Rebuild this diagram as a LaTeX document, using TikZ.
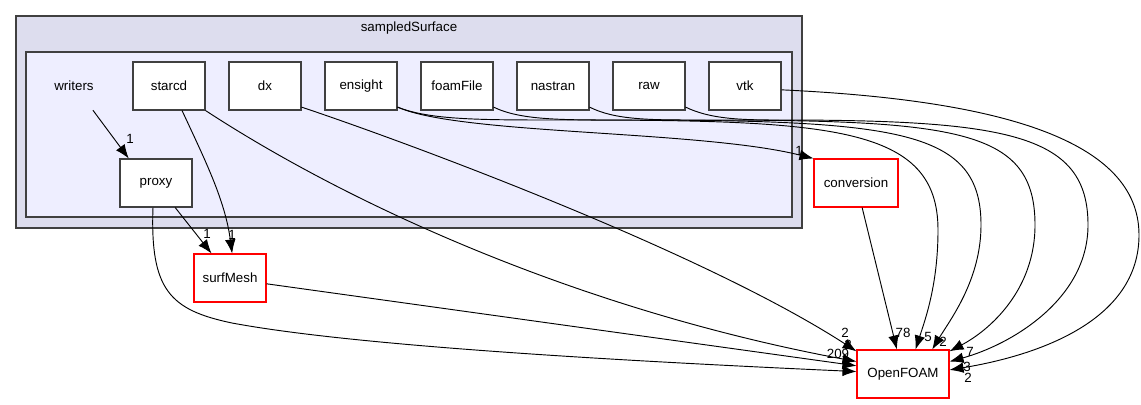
\documentclass[tikz,border=0pt]{standalone}
\usepackage{fontspec}
\setmainfont{Liberation Sans}
\usetikzlibrary{arrows.meta}
\definecolor{outerfill}{HTML}{DDDDEE}
\definecolor{innerfill}{HTML}{EEEEFF}
\definecolor{frame}{HTML}{404040}

\begin{document}
\begin{tikzpicture}[
x=0.75pt,
y=-0.75pt,
every node/.style={
  font=\fontsize{10pt}{12pt}\selectfont
  },
box/.style={
  draw=frame,
  fill=white,
  line width=0.8pt,
  minimum width=54pt,
  minimum height=36pt,
  inner sep=0pt
  },
plain/.style={
  draw=none,
  fill=none,
  minimum width=54pt,
  minimum height=36pt,
  inner sep=0pt
  },
ext/.style={
  box,
  draw=red
  },
lbl/.style={
  inner sep=0pt
  },
dep/.style={
  ->,
  line width=0.7pt
  },
>={Latex[length=10.5pt,width=8pt]}
]
\useasboundingbox (0,0) rectangle (1141,404);
\filldraw[fill=outerfill,draw=frame,line width=1pt] (16,16) rectangle (802,228);
\filldraw[fill=innerfill,draw=frame,line width=1pt] (26,52) rectangle (792,217);
\node (title) at (409,28) {sampledSurface};

\node[plain] (writers) at (74,86) {writers};
\node[box] (starcd) at (169,86) {starcd};
\node[box] (dx) at (265,86) {dx};
\node[box] (ensight) at (361,86) {ensight};
\node[box] (foamFile) at (457,86) {foamFile};
\node[box] (nastran) at (553,86) {nastran};
\node[box] (raw) at (649,86) {raw};
\node[box] (vtk) at (745,86) {vtk};
\node[box] (proxy) at (156,183) {proxy};
\node[ext,minimum width=63pt] (conversion) at (856,183) {conversion};
\node[ext] (surfMesh) at (230,278) {surfMesh};
\node[ext,minimum width=69pt] (OpenFOAM) at (903,374) {OpenFOAM};

\draw[dep] (writers.-52) -- (proxy.138);
\draw[dep] (proxy.-52) -- (surfMesh.127);
\draw[dep] (starcd.-62) .. controls (205,160) and (225,200) .. (surfMesh.85);
\draw[dep] (proxy.-97) .. controls (150,290) and (170,310) .. (232,323)
  .. controls (350,345) and (600,360) .. (OpenFOAM.177);
\draw[dep] (surfMesh.-9) -- (OpenFOAM.170);
\draw[dep] (starcd.south east) .. controls (350,205) and (580,310) .. (OpenFOAM.165);
\draw[dep] (dx.-30) .. controls (400,140) and (700,250) .. (OpenFOAM.154);
\draw[dep] (ensight.-30) .. controls (460,135) and (700,130) .. (conversion.north west);
\draw[dep] (ensight.-30) .. controls (430,120) and (480,120) .. (560,120)
  .. controls (830,120) and (938,125) .. (938,230)
  .. controls (938,285) and (925,320) .. (OpenFOAM.63);
\draw[dep] (foamFile.-30) .. controls (520,120) and (560,120) .. (620,120)
  .. controls (900,120) and (981,130) .. (981,225)
  .. controls (981,280) and (950,320) .. (OpenFOAM.40);
\draw[dep] (nastran.-30) .. controls (615,120) and (650,120) .. (700,120)
  .. controls (960,120) and (1035,130) .. (1035,225)
  .. controls (1035,290) and (990,330) .. (OpenFOAM.26);
\draw[dep] (raw.-30) .. controls (710,119) and (740,120) .. (780,120)
  .. controls (1010,120) and (1088,135) .. (1088,225)
  .. controls (1088,300) and (1010,345) .. (OpenFOAM.15);
\draw[dep] (vtk.-6) .. controls (1000,100) and (1139,140) .. (1139,235)
  .. controls (1139,320) and (1040,355) .. (OpenFOAM.5);
\draw[dep] (conversion.-76) -- (OpenFOAM.104);

\node[lbl] (l-writers) at (130,139) {1};
\node[lbl] (l-proxy) at (207,234) {1};
\node[lbl] (l-starcd) at (232,235) {1};
\node[lbl] (l-ensight) at (799,151) {1};
\node[lbl] (l-conversion) at (903,333) {78};
\node[lbl] (l-ensightof) at (928,337) {5};
\node[lbl] (l-foamfile) at (943,342) {2};
\node[lbl] (l-nastran) at (970,352) {7};
\node[lbl] (l-raw) at (967,367) {3};
\node[lbl] (l-vtk) at (968,378) {2};
\node[lbl] (l-dx) at (845,333) {2};
\node[lbl] (l-starcdof) at (848,345) {2};
\node[lbl] (l-surfmesh) at (838,354) {209};
\node[lbl] (l-proxyof) at (847,363) {2};
\end{tikzpicture}
\end{document}
